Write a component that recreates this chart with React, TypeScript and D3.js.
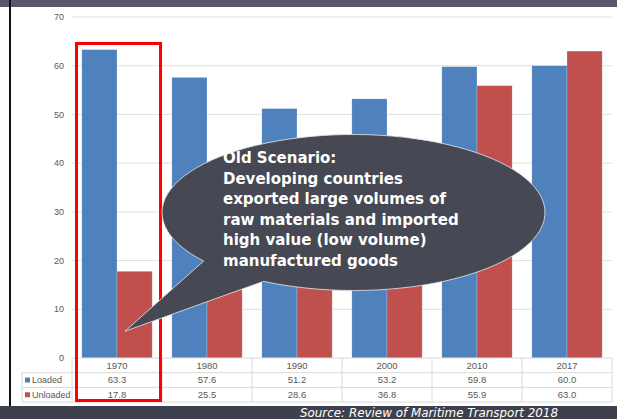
import React from "react";
import * as d3 from "d3";

const years = ["1970", "1980", "1990", "2000", "2010", "2017"];
const loaded = [63.3, 57.6, 51.2, 53.2, 59.8, 60.0];
const unloaded = [17.8, 25.5, 28.6, 36.8, 55.9, 63.0];
const seriesNames = ["Loaded", "Unloaded"];
const seriesColors = ["#4f81bd", "#c0504d"];
const yTicks = [0, 10, 20, 30, 40, 50, 60, 70];
const bubbleLines = [
  "Old Scenario:",
  "Developing countries",
  "exported large volumes of",
  "raw materials and imported",
  "high value (low volume)",
  "manufactured goods",
];
const sourceText = "Source: Review of Maritime Transport 2018";

const W = 617;
const H = 419;
const plotLeft = 72;
const plotRight = 612;
const yTop = 17;
const yBottom = 358;
const rowH = 14.7;

export default function App() {
  const x0 = d3.scaleBand<string>().domain(years).range([plotLeft, plotRight]).padding(0);
  const x1 = d3
    .scaleBand<string>()
    .domain(seriesNames)
    .range([0, x0.bandwidth()])
    .paddingInner(0)
    .paddingOuter(0.28);
  const y = d3.scaleLinear().domain([0, 70]).range([yBottom, yTop]);
  const series = [loaded, unloaded];

  // bubble geometry
  const cx = 353.5, cy = 212.5, rx = 191.5, ry = 78;
  const ang = (deg: number) => (deg * Math.PI) / 180;
  const ax = cx + rx * Math.cos(ang(141.5)), ay = cy + ry * Math.sin(ang(141.5));
  const bx = cx + rx * Math.cos(ang(118)), by = cy + ry * Math.sin(ang(118));
  const tipX = x0("1970")! + x0.bandwidth() / 2 + 8;
  const tipY = y(5.5);
  const bubblePath = `M${ax},${ay} A${rx},${ry} 0 1 1 ${bx},${by} L${tipX},${tipY} Z`;

  const tableTop = yBottom;
  const tableLeft = 22;
  const rows = 3;
  const tableBottom = tableTop + rowH * rows;

  const txtFont = "'Liberation Sans', Arial, sans-serif";

  return (
    <svg
      width={W}
      height={H}
      style={{ position: "absolute", left: 0, top: 0, display: "block", background: "#fff" }}
    >
      {/* top band */}
      <rect x={0} y={0} width={W} height={7} fill="#585a6b" />
      {/* left black border */}
      <rect x={9} y={0} width={2} height={406} fill="#111" />

      {/* gridlines */}
      {yTicks.filter((t) => t > 0).map((t) => (
        <line key={t} x1={plotLeft} x2={plotRight} y1={y(t)} y2={y(t)} stroke="#e0e0e0" strokeWidth={1} />
      ))}
      {/* y tick labels */}
      {yTicks.map((t) => (
        <text
          key={t}
          x={64}
          y={y(t)}
          dy="0.35em"
          textAnchor="end"
          fontSize={9}
          fill="#595959"
          fontFamily={txtFont}
        >
          {t}
        </text>
      ))}

      {/* bars */}
      {years.map((yr, i) => (
        <g key={yr} transform={`translate(${x0(yr)},0)`}>
          {seriesNames.map((s, j) => (
            <rect
              key={s}
              x={x1(s)}
              y={y(series[j][i])}
              width={x1.bandwidth()}
              height={y(0) - y(series[j][i])}
              fill={seriesColors[j]}
              stroke="#ffffff"
              strokeOpacity={0.35}
              strokeWidth={0.6}
            />
          ))}
        </g>
      ))}

      {/* data table */}
      <g>
        <line x1={plotLeft} x2={plotRight} y1={tableTop} y2={tableTop} stroke="#d9d9d9" />
        {[1, 2, 3].map((r) => (
          <line
            key={r}
            x1={tableLeft}
            x2={plotRight}
            y1={tableTop + rowH * r}
            y2={tableTop + rowH * r}
            stroke="#d9d9d9"
          />
        ))}
        <line x1={tableLeft} x2={tableLeft} y1={tableTop + rowH} y2={tableBottom} stroke="#d9d9d9" />
        {[...years.map((yr) => x0(yr)!), plotRight].map((xv, k) => (
          <line key={k} x1={xv} x2={xv} y1={tableTop} y2={tableBottom} stroke="#d9d9d9" />
        ))}
        {years.map((yr) => (
          <text
            key={yr}
            x={x0(yr)! + x0.bandwidth() / 2}
            y={tableTop + rowH * 0.5}
            dy="0.35em"
            textAnchor="middle"
            fontSize={9.5}
            fill="#595959"
            fontFamily={txtFont}
          >
            {yr}
          </text>
        ))}
        {seriesNames.map((s, j) => (
          <g key={s}>
            <rect x={25} y={tableTop + rowH * (j + 1.5) - 2.5} width={5} height={5} fill={seriesColors[j]} />
            <text
              x={32}
              y={tableTop + rowH * (j + 1.5)}
              dy="0.35em"
              fontSize={9}
              fill="#595959"
              fontFamily={txtFont}
            >
              {s}
            </text>
            {years.map((yr, i) => (
              <text
                key={yr}
                x={x0(yr)! + x0.bandwidth() / 2}
                y={tableTop + rowH * (j + 1.5)}
                dy="0.35em"
                textAnchor="middle"
                fontSize={9.5}
                fill="#595959"
                fontFamily={txtFont}
              >
                {series[j][i].toFixed(1)}
              </text>
            ))}
          </g>
        ))}
      </g>

      {/* red highlight rectangle */}
      <rect
        x={x0("1970")! + 4.5}
        y={43.5}
        width={x0.bandwidth() - 6}
        height={357}
        fill="none"
        stroke="#ff0000"
        strokeWidth={3}
      />

      {/* speech bubble */}
      <path d={bubblePath} fill="#464853" stroke="#e8e8ee" strokeWidth={0.8} />
      {bubbleLines.map((ln, i) => (
        <text
          key={i}
          x={223}
          y={163 + i * 20.6}
          fontSize={15}
          fontWeight="bold"
          fill="#ffffff"
          fontFamily="'DejaVu Sans', Verdana, sans-serif"
        >
          {ln}
        </text>
      ))}

      {/* bottom band */}
      <rect x={0} y={406} width={W} height={13} fill="#3e414d" />
      <text
        x={300}
        y={416.5}
        fontSize={12.5}
        fontStyle="italic"
        fill="#ffffff"
        fontFamily="'DejaVu Sans', Verdana, sans-serif"
        textLength={258}
        lengthAdjust="spacingAndGlyphs"
      >
        {sourceText}
      </text>
    </svg>
  );
}
